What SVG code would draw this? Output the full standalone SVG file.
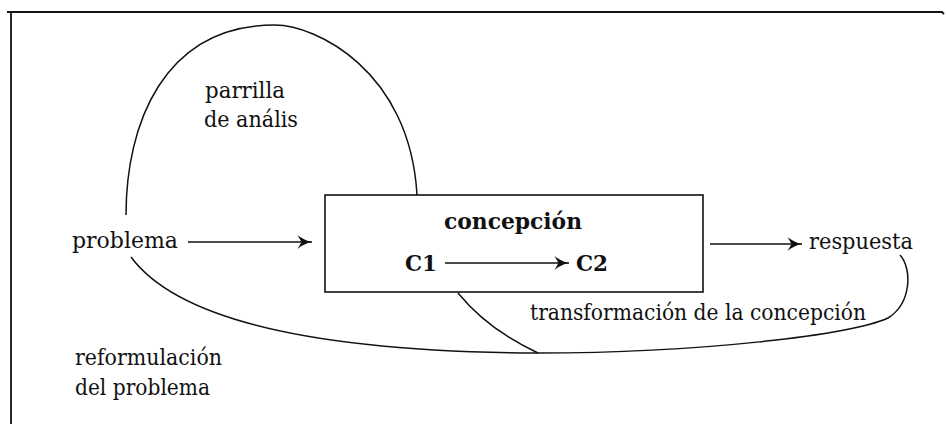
<svg xmlns="http://www.w3.org/2000/svg" width="946" height="424" viewBox="0 0 946 424">
  <style>
    .txt { font-family: "DejaVu Serif", "Liberation Serif", serif; font-size: 22px; fill: #111; }
    .bold { font-weight: bold; }
    .line { fill: none; stroke: #111; stroke-width: 1.5; }
    .frame { fill: none; stroke: #111; stroke-width: 1.8; }
    .box { fill: #fff; stroke: #111; stroke-width: 1.6; }
  </style>
  <defs>
    <marker id="arrow" viewBox="0 0 16 16" refX="15" refY="8" markerWidth="16" markerHeight="16" markerUnits="userSpaceOnUse" orient="auto">
      <path d="M0.5,1 Q6.5,6.2 15,8 Q6.5,9.8 0.5,15 L4.5,8 Z" fill="#111"/>
    </marker>
  </defs>

  <rect width="946" height="424" fill="#fff"/>

  <!-- page frame: top and left rules -->
  <path class="frame" d="M7,12 L942,12 L944,14 M11,12 L11,424"/>

  <g id="node-parrilla">
    <text class="txt" x="205" y="98" textLength="80" lengthAdjust="spacingAndGlyphs">parrilla</text>
    <text class="txt" x="204" y="127" textLength="94" lengthAdjust="spacingAndGlyphs">de anális</text>
  </g>

  <g id="node-problema">
    <text class="txt" x="72" y="248" textLength="106" lengthAdjust="spacingAndGlyphs">problema</text>
  </g>

  <g id="node-concepcion">
    <rect class="box" x="325" y="195" width="378" height="97"/>
    <text class="txt bold" x="444" y="229" textLength="138" lengthAdjust="spacingAndGlyphs">concepción</text>
    <text class="txt bold" x="405" y="271" textLength="32" lengthAdjust="spacingAndGlyphs">C1</text>
    <text class="txt bold" x="576" y="271" textLength="32" lengthAdjust="spacingAndGlyphs">C2</text>
  </g>

  <g id="node-respuesta">
    <text class="txt" x="809" y="249" textLength="104" lengthAdjust="spacingAndGlyphs">respuesta</text>
  </g>

  <g id="label-transformacion">
    <text class="txt" x="530" y="320" textLength="336" lengthAdjust="spacingAndGlyphs">transformación de la concepción</text>
  </g>

  <g id="label-reformulacion">
    <text class="txt" x="75" y="365" textLength="147" lengthAdjust="spacingAndGlyphs">reformulación</text>
    <text class="txt" x="75" y="395" textLength="135" lengthAdjust="spacingAndGlyphs">del problema</text>
  </g>

  <!-- connectors -->
  <g id="connectors">
    <!-- parrilla de análisis loop -->
    <path class="line" d="M126,215 C126,125 163,25 275,25 C315,25 410,70 417,195"/>
    <!-- problema -> concepción -->
    <path class="line" d="M188,242 L312,242" marker-end="url(#arrow)"/>
    <!-- C1 -> C2 -->
    <path class="line" d="M445,263 L569,263" marker-end="url(#arrow)"/>
    <!-- concepción -> respuesta -->
    <path class="line" d="M710,244 L802,244" marker-end="url(#arrow)"/>
    <!-- reformulación del problema loop -->
    <path class="line" d="M131,257 C185,330 350,352 538,353 C700,353 850,335 888,318 C912,303 912,268 900,255"/>
    <!-- transformación de la concepción branch -->
    <path class="line" d="M458,293 C480,320 510,340 538,353"/>
  </g>
</svg>
